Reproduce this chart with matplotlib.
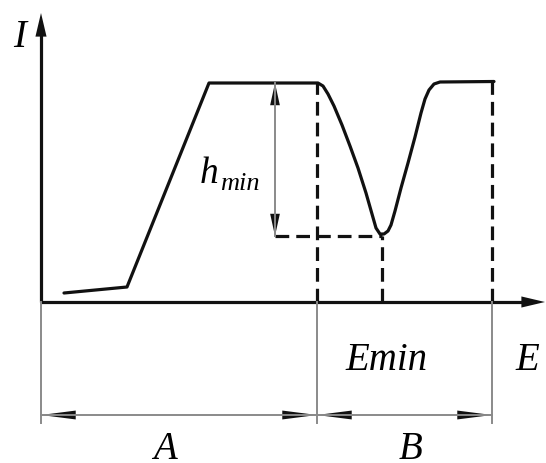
import matplotlib
matplotlib.use("Agg")
import matplotlib.pyplot as plt
from matplotlib import font_manager as fm
from matplotlib.patches import FancyArrowPatch

ITALIC = fm.FontProperties(family="Liberation Serif", style="italic")

# Intensity curve I(E): ramp, plateau, dip to the minimum, recovery plateau
curve_E = [23, 86, 168, 277, 282, 287, 293, 301, 309, 317, 325, 331, 335,
           339, 343, 347, 350, 354, 360, 367, 374, 380, 384, 388, 393, 399, 453]
curve_I = [9, 15, 219, 219, 216, 208, 196, 177, 156, 134, 109, 88, 74,
           68, 68, 71, 77, 91, 114, 139, 165, 189, 203, 212, 218, 220, 220.5]

plateau_I = 219            # height of the plateau
dip_E, dip_I = 341, 66     # position of the minimum
E_start, E_end = 276, 451  # edges of the B region
axis_E_max, axis_I_max = 504, 289
hmin_E = 234               # where the h_min dimension is drawn

labels_regions = ["A", "B"]

fig = plt.figure(figsize=(5.46, 4.63), dpi=100)
ax = fig.add_axes([0, 0, 1, 1])
ax.set_xlim(-41, 505)
ax.set_ylim(-161, 302)
ax.axis("off")

black = "#111111"
gray = "#8a8a8a"
LW = 2.3

# Axes with arrows
ax.plot([0, axis_E_max - 20], [0, 0], color=black, lw=LW, solid_capstyle="butt")
ax.plot([0, 0], [0, axis_I_max - 20], color=black, lw=LW, solid_capstyle="butt")
for start, end in [((axis_E_max - 24, 0), (axis_E_max, 0)),
                   ((0, axis_I_max - 24), (0, axis_I_max))]:
    ax.add_patch(FancyArrowPatch(start, end, arrowstyle="-|>,head_length=17,head_width=4",
                                 color=black, lw=0, mutation_scale=1,
                                 shrinkA=0, shrinkB=0))

# Curve
ax.plot(curve_E, curve_I, color=black, lw=LW, solid_joinstyle="round",
        solid_capstyle="round")

# Dashed guides
dash = (0, (4.3, 2.2))
ax.plot([E_start, E_start], [0, plateau_I], color=black, lw=LW, ls=dash)
ax.plot([dip_E, dip_E], [0, dip_I], color=black, lw=LW, ls=dash)
ax.plot([E_end, E_end], [0, curve_I[-1]], color=black, lw=LW, ls=dash)
ax.plot([hmin_E, dip_E], [dip_I, dip_I], color=black, lw=LW, ls=dash)


def dim_arrow(p0, p1, hl=17, hw=3.2):
    """Thin gray dimension line with dark filled heads at both ends."""
    ax.plot([p0[0], p1[0]], [p0[1], p1[1]], color=gray, lw=1.4)
    for a, b in [(p1, p0), (p0, p1)]:
        dx, dy = b[0] - a[0], b[1] - a[1]
        n = (dx ** 2 + dy ** 2) ** 0.5
        s = (b[0] - dx / n * hl, b[1] - dy / n * hl)
        ax.add_patch(FancyArrowPatch(s, b, arrowstyle=f"-|>,head_length={hl},head_width={hw}",
                                     color=black, lw=0, mutation_scale=1,
                                     shrinkA=0, shrinkB=0))


# h_min dimension
dim_arrow((hmin_E, plateau_I), (hmin_E, dip_I), hl=16, hw=3.5)
ax.text(159, 119, "h", fontproperties=ITALIC, fontsize=27, va="baseline", ha="left")
ax.text(179, 112, "min", fontproperties=ITALIC, fontsize=19, va="baseline", ha="left")

# Extension lines and region dimensions
for xe in [0, E_start, E_end]:
    ax.plot([xe, xe], [0, -121], color=gray, lw=1.4)
dim_arrow((0, -113), (E_start, -113), hl=25, hw=3.2)
dim_arrow((E_start, -113), (E_end, -113), hl=25, hw=3.2)

# Labels
ax.text(-28, 255, "I", fontproperties=ITALIC, fontsize=28, va="baseline", ha="left")
ax.text(304, -68, "Emin", fontproperties=ITALIC, fontsize=28, va="baseline", ha="left")
ax.text(474, -68, "E", fontproperties=ITALIC, fontsize=28, va="baseline", ha="left")
ax.text(124, -157, labels_regions[0], fontproperties=ITALIC, fontsize=28,
        va="baseline", ha="center")
ax.text(370, -157, labels_regions[1], fontproperties=ITALIC, fontsize=28,
        va="baseline", ha="center")

fig.savefig("out.png", dpi=100, facecolor="white")
